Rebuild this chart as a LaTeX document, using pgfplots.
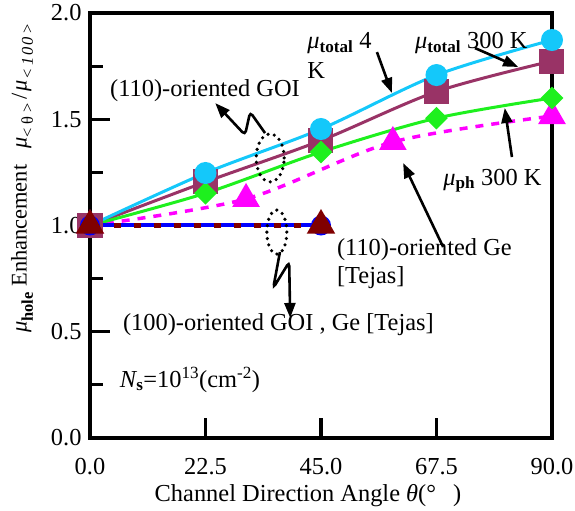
\documentclass[border=0pt]{standalone}
\usepackage{fontspec}
\setmainfont{Liberation Serif}
\usepackage{pgfplots}
\pgfplotsset{compat=1.18}
\usetikzlibrary{arrows.meta}
\definecolor{cyanL}{RGB}{20,200,250}
\definecolor{purpL}{RGB}{153,51,102}
\definecolor{greenL}{RGB}{30,240,30}
\definecolor{magL}{RGB}{255,0,255}
\definecolor{blueL}{RGB}{0,0,255}
\definecolor{redD}{RGB}{128,0,0}
\newcommand{\mui}{{\itshape μ}}
\newcommand{\tsub}[1]{\textsubscript{#1}}
\newcommand{\ysub}[1]{\raisebox{-0.28em}{\fontsize{16.5}{19}\selectfont #1}}
\begin{document}
\begin{tikzpicture}[font=\fontsize{24.5}{29}\selectfont]
\useasboundingbox (-90bp,-73bp) rectangle (485bp,438bp);
\begin{axis}[
  name=ax, at={(0,0)}, anchor=south west,
  scale only axis, width=462bp, height=425bp,
  xmin=0, xmax=90, ymin=0, ymax=2,
  axis line style={line width=3.5bp},
  tick pos=left,
  tick align=inside,
  major tick length=20bp, minor tick length=13bp,
  tick style={black, line width=3.2bp},
  xtick={0,22.5,45,67.5,90}, xticklabels={0.0,22.5,45.0,67.5,90.0},
  ytick={0,0.5,1,1.5,2}, yticklabels={0.0,0.5,1.0,1.5,2.0},
  minor ytick={0.25,0.75,1.25,1.75},
  every tick label/.append style={font=\fontsize{24.5}{29}\selectfont},
  xticklabel style={yshift=-17bp},
  yticklabel style={xshift=-5bp},
  clip=false,
]
% (110) Ge [Tejas], magenta dashed
\addplot[magL, line width=3.5bp, dash pattern=on 8bp off 8bp, smooth,
  mark=triangle*, mark size=12.5bp, mark options={solid, fill=magL, draw=magL}]
  coordinates {(0,1.0) (30.4,1.125) (59,1.393) (90,1.515)};
% mu total 300 K, purple squares
\addplot[purpL, line width=3bp, smooth,
  mark=square*, mark size=11bp, mark options={fill=purpL, draw=purpL}]
  coordinates {(0,1.0) (22.5,1.205) (45,1.40) (67.5,1.63) (90,1.774)};
% mu ph 300 K, green diamonds
\addplot[greenL, line width=3bp, smooth,
  mark=square*, mark size=6.5bp, mark indices={2,3,4,5},
  mark options={rotate=45, fill=greenL, draw=greenL}]
  coordinates {(0,1.0) (22.5,1.152) (45,1.346) (67.5,1.505) (90,1.60)};
% mu total 4 K, cyan circles
\addplot[cyanL, line width=3bp, smooth,
  mark=*, mark size=9.5bp, mark indices={2,3,4,5},
  mark options={fill=cyanL, draw=cyanL}]
  coordinates {(0,1.0) (22.5,1.247) (45,1.454) (67.5,1.708) (90,1.873)};
% (100) GOI, blue
\addplot[blueL, line width=4bp,
  mark=*, mark size=8bp, mark options={fill=blueL, draw=blueL}]
  coordinates {(0,1.0) (45,1.0)};
% (100) Ge [Tejas], dark red
\addplot[redD, line width=5bp, dash pattern=on 6.5bp off 13.5bp, dash phase=-4bp,
  mark=triangle*, mark size=11.5bp, mark options={solid, fill=redD, draw=redD}]
  coordinates {(0,1.0) (45,1.0)};

% dotted ellipses
\draw[black, line width=3.6bp, line cap=round, dash pattern=on 0bp off 6.5bp]
  (axis cs:35.1,1.318) ellipse [x radius=14bp, y radius=24bp];
\draw[black, line width=3.6bp, line cap=round, dash pattern=on 0bp off 6.5bp]
  (axis cs:36.4,0.969) ellipse [x radius=10bp, y radius=22bp];

% arrows
\tikzset{arr/.style={black, line width=2.6bp, -{Triangle[length=15bp,width=11bp]}}}
\draw[arr] (axis cs:55.9,1.816) -- (axis cs:58.8,1.624);
\draw[arr] (axis cs:75.0,1.835) -- (axis cs:83.4,1.746);
\draw[arr] (axis cs:82.2,1.322) -- (axis cs:80.8,1.553);
\draw[arr] (axis cs:68.8,0.899) -- (axis cs:61.0,1.294);
\draw[arr, rounded corners=4bp] (axis cs:34.1,1.435) -- (axis cs:31.2,1.534) -- (axis cs:30.2,1.426) -- (axis cs:24.4,1.576);
\draw[arr, rounded corners=4bp] (axis cs:37.0,0.875) -- (axis cs:35.7,0.706) -- (axis cs:38.8,0.828) -- (axis cs:39.0,0.565);

% texts
\node[anchor=base west, inner sep=0] at (axis cs:42.3,1.831) {\mui\tsub{\textbf{total}} 4};
\node[anchor=base west, inner sep=0] at (axis cs:42.3,1.694) {K};
\node[anchor=base west, inner sep=0] at (axis cs:63.3,1.831) {\mui\tsub{\textbf{total}} 300 K};
\node[anchor=base west, inner sep=0] at (axis cs:3.9,1.605) {(110)-oriented GOI};
\node[anchor=base west, inner sep=0] at (axis cs:68.8,1.19) {\mui\tsub{\textbf{ph}} 300 K};
\node[anchor=base west, inner sep=0] at (axis cs:48.1,0.861) {(110)-oriented Ge};
\node[anchor=base west, inner sep=0] at (axis cs:48.1,0.729) {[Tejas]};
\node[anchor=base west, inner sep=0] at (axis cs:6.4,0.504) {(100)-oriented GOI , Ge [Tejas]};
\node[anchor=base west, inner sep=0] at (axis cs:5.8,0.24) {{\itshape N}\tsub{\textbf{s}}=10\textsuperscript{13}(cm\textsuperscript{-2})};
\end{axis}
\node[anchor=base, inner sep=0] at (218bp,-63bp) {Channel Direction Angle {\itshape θ}(°\hspace{0.7em})};
\node[rotate=90, inner sep=0, font=\fontsize{22.5}{26}\selectfont] at (-68bp,260bp)
  {\mui\ysub{\bfseries hole} Enhancement\hspace{0.7em}\mui\ysub{<\hspace{0.25em}θ\hspace{0.25em}>}\hspace{0.15em}/\hspace{0.1em}\mui\ysub{\itshape <\hspace{0.2em}1\hspace{0.1em}0\hspace{0.1em}0\hspace{0.2em}>}};
\end{tikzpicture}
\end{document}
